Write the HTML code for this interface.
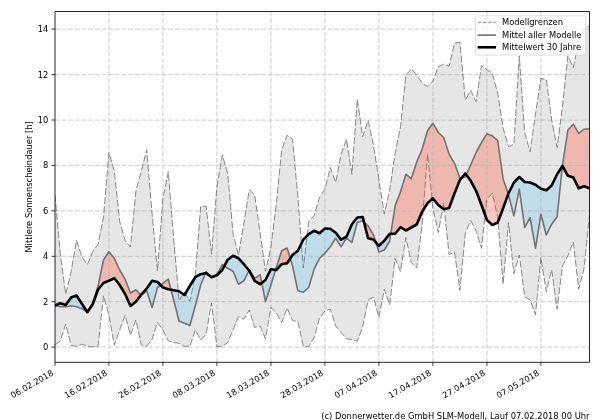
<!DOCTYPE html>
<html lang="de"><head><meta charset="utf-8"><title>Mittlere Sonnenscheindauer</title>
<style>html,body{margin:0;padding:0;background:#fff}svg{display:block}text{font-family:"DejaVu Sans","Liberation Sans",sans-serif;fill:#000}</style></head><body>
<svg width="600" height="420" viewBox="0 0 600 420">
<rect width="600" height="420" fill="#fff"/>
<defs><clipPath id="c"><rect x="55" y="11.5" width="534.5" height="350.8"/></clipPath></defs>
<g clip-path="url(#c)">
<polygon points="55,195 60.3,254 65.7,294.2 71.1,271.7 76.5,240.3 81.9,256.7 87.3,264.7 92.7,251.7 98.1,244.2 103.5,217 108.9,152.5 114.3,170.8 119.7,221.7 125.1,240.5 130.5,247 135.9,191 141.3,171 146.7,149.7 152.1,214 157.5,270.8 162.9,198.3 168.3,171.7 173.7,239 179.1,300.7 184.5,292 189.9,301.3 195.3,275 200.7,206.3 206.1,206.3 211.5,254.2 216.9,186.7 222.3,155 227.7,173.3 233.1,234 238.5,255 243.9,223 249.3,189.7 254.7,195 260.1,233 265.5,271.3 270.9,247 276.3,204 281.7,150 287.1,135.3 292.5,139.2 297.9,197 303.3,268 308.7,221.7 314.1,215.8 319.5,197.5 324.9,189.6 330.3,167.5 335.7,182.5 341.1,154.2 346.5,139.2 351.9,174.2 357.3,99.2 362.7,136.7 368.1,120.4 373.5,145 378.9,180 384.3,214.2 389.7,190 395.1,153.3 400.5,126.7 405.9,75 411.3,69 416.7,75 422.1,83 427.5,86.7 432.9,81.3 438.3,66.7 443.7,64.2 449.1,66.2 454.5,43.3 459.9,42.2 465.3,100 470.7,90.5 476.1,101.7 481.5,65.5 486.9,69.7 492.3,73.3 497.7,93.3 503.1,128 508.5,146.5 513.9,144.2 519.3,56 524.7,133 530.1,151.7 535.5,114 540.9,78.3 546.3,79.7 551.7,120 557.1,147.5 562.5,106 567.9,55.8 573.3,67.5 578.7,40.8 584.1,28.3 589.5,25.8 589.5,215 584.1,268.3 578.7,289.2 573.3,242 567.9,255.8 562.5,265.8 557.1,309.2 551.7,270 546.3,291.7 540.9,257.5 535.5,314.7 530.1,300 524.7,296.7 519.3,255 513.9,273.7 508.5,222.5 503.1,284.2 497.7,216.7 492.3,193.3 486.9,199 481.5,248.3 476.1,230.8 470.7,220.5 465.3,233.3 459.9,290.3 454.5,252.2 449.1,254.6 443.7,203.3 438.3,232.5 432.9,208.3 427.5,154.2 422.1,225 416.7,268 411.3,262.5 405.9,237.5 400.5,271.7 395.1,258.3 389.7,304.7 384.3,289.1 378.9,317.5 373.5,297.2 368.1,300 362.7,326.7 357.3,341.2 351.9,339.7 346.5,338.8 341.1,332.5 335.7,325.8 330.3,309.2 324.9,310.8 319.5,318.3 314.1,337.5 308.7,346.7 303.3,346.3 297.9,321.7 292.5,320.5 287.1,308 281.7,322.5 276.3,312.5 270.9,307.5 265.5,338.8 260.1,325.8 254.7,327.5 249.3,310 243.9,319.2 238.5,316.5 233.1,329.5 227.7,342.5 222.3,346.3 216.9,346.7 211.5,303 206.1,334.2 200.7,340 195.3,330 189.9,346.3 184.5,346.3 179.1,343.3 173.7,342.5 168.3,340.8 162.9,330 157.5,322.5 152.1,339.2 146.7,346.3 141.3,345 135.9,320 130.5,335 125.1,315.3 119.7,330 114.3,345 108.9,315 103.5,295.8 98.1,346.3 92.7,346.7 87.3,346.3 81.9,344.2 76.5,346.3 71.1,345.5 65.7,324.2 60.3,340.8 55,345" fill="#808080" fill-opacity="0.2"/>
<polygon points="86.8,311.4 87.3,311.7 92.7,303.5 98.1,285.8 103.5,260 108.9,251.7 114.3,258.3 119.7,270 125.1,279.2 130.5,293 135.9,289.7 140.9,295.1 135.9,301.7 130.5,306 125.1,294 119.7,285 114.3,278.3 108.9,280.8 103.5,283 98.1,289.5 92.7,304.2 87.3,312.2" fill="#ff6e55" fill-opacity="0.38"/>
<polygon points="160.6,285.1 162.9,283.3 168.3,279.2 171.1,289.8 168.3,289.2 162.9,287.5" fill="#ff6e55" fill-opacity="0.38"/>
<polygon points="205.6,273.1 206.1,271.7 211.5,277 216.9,274.7 222.3,264.7 224.4,266.1 222.3,270 216.9,275.3 211.5,277.2 206.1,273" fill="#ff6e55" fill-opacity="0.38"/>
<polygon points="249.1,270.5 249.3,270 254.7,278.3 260.1,274.7 261.8,282.9 260.1,284.2 254.7,280.8 249.3,270.8" fill="#ff6e55" fill-opacity="0.38"/>
<polygon points="275.6,269.9 276.3,267.5 281.7,250.8 287.1,248 290.3,258.4 287.1,263.3 281.7,264.2 276.3,270" fill="#ff6e55" fill-opacity="0.38"/>
<polygon points="364,222 368.1,225.8 373.5,235 375.8,242.2 373.5,239.6 368.1,238.3" fill="#ff6e55" fill-opacity="0.38"/>
<polygon points="390.8,233.7 395.1,205.8 400.5,191.7 405.9,174.2 411.3,178.8 416.7,162 422.1,149.2 427.5,130.8 432.9,123.3 438.3,132.5 443.7,137.5 449.1,154.2 454.5,163.3 459.9,178.3 461.7,177.9 459.9,180 454.5,193.3 449.1,208 443.7,209.2 438.3,205 432.9,198.3 427.5,203.3 422.1,211.7 416.7,224.5 411.3,227.5 405.9,230.5 400.5,227.2 395.1,233.8" fill="#ff6e55" fill-opacity="0.38"/>
<polygon points="466.3,174.8 470.7,165 476.1,152.5 481.5,142.5 486.9,133.8 492.3,135.8 497.7,140.5 503.1,179 508.2,194.1 503.1,208.3 497.7,222.5 492.3,225 486.9,220 481.5,205 476.1,190.8 470.7,180.8" fill="#ff6e55" fill-opacity="0.38"/>
<polygon points="562.4,166.2 562.5,165 567.9,130 573.3,124.2 578.7,133.3 584.1,129.2 589.5,128.7 589.5,188.3 584.1,186.2 578.7,188.3 573.3,177.5 567.9,175.8 562.5,166" fill="#ff6e55" fill-opacity="0.38"/>
<polygon points="55,305.8 60.3,306.7 65.7,306.7 71.1,305.8 76.5,306.7 81.9,308.7 86.8,311.4 81.9,303.8 76.5,295.5 71.1,297.5 65.7,305 60.3,303.3 55,305.3" fill="#87ceeb" fill-opacity="0.4"/>
<polygon points="140.9,295.1 141.3,295.5 146.7,290.8 152.1,307.5 157.5,287.5 160.6,285.1 157.5,282 152.1,280.8 146.7,288.5 141.3,294.5" fill="#87ceeb" fill-opacity="0.4"/>
<polygon points="171.1,289.8 173.7,300 179.1,321.3 184.5,323.3 189.9,325.5 195.3,305.8 200.7,285 205.6,273.1 200.7,274.2 195.3,277.2 189.9,285.8 184.5,295 179.1,291.3 173.7,290.3" fill="#87ceeb" fill-opacity="0.4"/>
<polygon points="224.4,266.1 227.7,268.3 233.1,271.3 238.5,284.2 243.9,280.8 249.1,270.5 243.9,264.2 238.5,258.3 233.1,255.8 227.7,259.7" fill="#87ceeb" fill-opacity="0.4"/>
<polygon points="261.8,282.9 265.5,301.7 270.9,285 275.6,269.9 270.9,269.2 265.5,280" fill="#87ceeb" fill-opacity="0.4"/>
<polygon points="290.3,258.4 292.5,265.8 297.9,290.8 303.3,292.2 308.7,287.5 314.1,269.2 319.5,258.3 324.9,253.3 330.3,246.7 335.7,238.3 341.1,246.7 346.5,238 351.9,242.5 357.3,222.5 362.7,220.8 364,222 362.7,217 357.3,217.5 351.9,224.2 346.5,236.7 341.1,239.6 335.7,232.7 330.3,228.7 324.9,228.5 319.5,233.3 314.1,230.8 308.7,234.2 303.3,239.7 297.9,250.8 292.5,255" fill="#87ceeb" fill-opacity="0.4"/>
<polygon points="375.8,242.2 378.9,252 384.3,250 389.7,241 390.8,233.7 389.7,233.7 384.3,240.8 378.9,245.8" fill="#87ceeb" fill-opacity="0.4"/>
<polygon points="461.7,177.9 465.3,177 466.3,174.8 465.3,173.5" fill="#87ceeb" fill-opacity="0.4"/>
<polygon points="508.2,194.1 508.5,195 513.9,215.8 519.3,189.2 524.7,227.5 530.1,217.5 535.5,248.3 540.9,214.2 546.3,235 551.7,224.2 557.1,216.7 562.4,166.2 557.1,174.2 551.7,185.5 546.3,190.3 540.9,188.7 535.5,184.7 530.1,182.5 524.7,182 519.3,177 513.9,182.5 508.5,193.3" fill="#87ceeb" fill-opacity="0.4"/>
<path d="M108.9 362.3V11.5M162.9 362.3V11.5M216.9 362.3V11.5M270.9 362.3V11.5M324.9 362.3V11.5M378.9 362.3V11.5M432.9 362.3V11.5M486.9 362.3V11.5M540.9 362.3V11.5M55 347.1H589.5M55 301.7H589.5M55 256.3H589.5M55 210.8H589.5M55 165.4H589.5M55 120H589.5M55 74.6H589.5M55 29.1H589.5" fill="none" stroke="#b0b0b0" stroke-opacity="0.55" stroke-width="1.25" stroke-dasharray="4.646 2.009"/>
<polyline points="55,195 60.3,254 65.7,294.2 71.1,271.7 76.5,240.3 81.9,256.7 87.3,264.7 92.7,251.7 98.1,244.2 103.5,217 108.9,152.5 114.3,170.8 119.7,221.7 125.1,240.5 130.5,247 135.9,191 141.3,171 146.7,149.7 152.1,214 157.5,270.8 162.9,198.3 168.3,171.7 173.7,239 179.1,300.7 184.5,292 189.9,301.3 195.3,275 200.7,206.3 206.1,206.3 211.5,254.2 216.9,186.7 222.3,155 227.7,173.3 233.1,234 238.5,255 243.9,223 249.3,189.7 254.7,195 260.1,233 265.5,271.3 270.9,247 276.3,204 281.7,150 287.1,135.3 292.5,139.2 297.9,197 303.3,268 308.7,221.7 314.1,215.8 319.5,197.5 324.9,189.6 330.3,167.5 335.7,182.5 341.1,154.2 346.5,139.2 351.9,174.2 357.3,99.2 362.7,136.7 368.1,120.4 373.5,145 378.9,180 384.3,214.2 389.7,190 395.1,153.3 400.5,126.7 405.9,75 411.3,69 416.7,75 422.1,83 427.5,86.7 432.9,81.3 438.3,66.7 443.7,64.2 449.1,66.2 454.5,43.3 459.9,42.2 465.3,100 470.7,90.5 476.1,101.7 481.5,65.5 486.9,69.7 492.3,73.3 497.7,93.3 503.1,128 508.5,146.5 513.9,144.2 519.3,56 524.7,133 530.1,151.7 535.5,114 540.9,78.3 546.3,79.7 551.7,120 557.1,147.5 562.5,106 567.9,55.8 573.3,67.5 578.7,40.8 584.1,28.3 589.5,25.8" fill="none" stroke="#747474" stroke-width="0.85" stroke-dasharray="7 2.1" stroke-linejoin="round"/>
<polyline points="55,345 60.3,340.8 65.7,324.2 71.1,345.5 76.5,346.3 81.9,344.2 87.3,346.3 92.7,346.7 98.1,346.3 103.5,295.8 108.9,315 114.3,345 119.7,330 125.1,315.3 130.5,335 135.9,320 141.3,345 146.7,346.3 152.1,339.2 157.5,322.5 162.9,330 168.3,340.8 173.7,342.5 179.1,343.3 184.5,346.3 189.9,346.3 195.3,330 200.7,340 206.1,334.2 211.5,303 216.9,346.7 222.3,346.3 227.7,342.5 233.1,329.5 238.5,316.5 243.9,319.2 249.3,310 254.7,327.5 260.1,325.8 265.5,338.8 270.9,307.5 276.3,312.5 281.7,322.5 287.1,308 292.5,320.5 297.9,321.7 303.3,346.3 308.7,346.7 314.1,337.5 319.5,318.3 324.9,310.8 330.3,309.2 335.7,325.8 341.1,332.5 346.5,338.8 351.9,339.7 357.3,341.2 362.7,326.7 368.1,300 373.5,297.2 378.9,317.5 384.3,289.1 389.7,304.7 395.1,258.3 400.5,271.7 405.9,237.5 411.3,262.5 416.7,268 422.1,225 427.5,154.2 432.9,208.3 438.3,232.5 443.7,203.3 449.1,254.6 454.5,252.2 459.9,290.3 465.3,233.3 470.7,220.5 476.1,230.8 481.5,248.3 486.9,199 492.3,193.3 497.7,216.7 503.1,284.2 508.5,222.5 513.9,273.7 519.3,255 524.7,296.7 530.1,300 535.5,314.7 540.9,257.5 546.3,291.7 551.7,270 557.1,309.2 562.5,265.8 567.9,255.8 573.3,242 578.7,289.2 584.1,268.3 589.5,215" fill="none" stroke="#747474" stroke-width="0.85" stroke-dasharray="7 2.1" stroke-linejoin="round"/>
<polyline points="55,305.8 60.3,306.7 65.7,306.7 71.1,305.8 76.5,306.7 81.9,308.7 87.3,311.7 92.7,303.5 98.1,285.8 103.5,260 108.9,251.7 114.3,258.3 119.7,270 125.1,279.2 130.5,293 135.9,289.7 141.3,295.5 146.7,290.8 152.1,307.5 157.5,287.5 162.9,283.3 168.3,279.2 173.7,300 179.1,321.3 184.5,323.3 189.9,325.5 195.3,305.8 200.7,285 206.1,271.7 211.5,277 216.9,274.7 222.3,264.7 227.7,268.3 233.1,271.3 238.5,284.2 243.9,280.8 249.3,270 254.7,278.3 260.1,274.7 265.5,301.7 270.9,285 276.3,267.5 281.7,250.8 287.1,248 292.5,265.8 297.9,290.8 303.3,292.2 308.7,287.5 314.1,269.2 319.5,258.3 324.9,253.3 330.3,246.7 335.7,238.3 341.1,246.7 346.5,238 351.9,242.5 357.3,222.5 362.7,220.8 368.1,225.8 373.5,235 378.9,252 384.3,250 389.7,241 395.1,205.8 400.5,191.7 405.9,174.2 411.3,178.8 416.7,162 422.1,149.2 427.5,130.8 432.9,123.3 438.3,132.5 443.7,137.5 449.1,154.2 454.5,163.3 459.9,178.3 465.3,177 470.7,165 476.1,152.5 481.5,142.5 486.9,133.8 492.3,135.8 497.7,140.5 503.1,179 508.5,195 513.9,215.8 519.3,189.2 524.7,227.5 530.1,217.5 535.5,248.3 540.9,214.2 546.3,235 551.7,224.2 557.1,216.7 562.5,165 567.9,130 573.3,124.2 578.7,133.3 584.1,129.2 589.5,128.7" fill="none" stroke="#727272" stroke-width="1.6" stroke-linejoin="round"/>
<polyline points="55,305.3 60.3,303.3 65.7,305 71.1,297.5 76.5,295.5 81.9,303.8 87.3,312.2 92.7,304.2 98.1,289.5 103.5,283 108.9,280.8 114.3,278.3 119.7,285 125.1,294 130.5,306 135.9,301.7 141.3,294.5 146.7,288.5 152.1,280.8 157.5,282 162.9,287.5 168.3,289.2 173.7,290.3 179.1,291.3 184.5,295 189.9,285.8 195.3,277.2 200.7,274.2 206.1,273 211.5,277.2 216.9,275.3 222.3,270 227.7,259.7 233.1,255.8 238.5,258.3 243.9,264.2 249.3,270.8 254.7,280.8 260.1,284.2 265.5,280 270.9,269.2 276.3,270 281.7,264.2 287.1,263.3 292.5,255 297.9,250.8 303.3,239.7 308.7,234.2 314.1,230.8 319.5,233.3 324.9,228.5 330.3,228.7 335.7,232.7 341.1,239.6 346.5,236.7 351.9,224.2 357.3,217.5 362.7,217 368.1,238.3 373.5,239.6 378.9,245.8 384.3,240.8 389.7,233.7 395.1,233.8 400.5,227.2 405.9,230.5 411.3,227.5 416.7,224.5 422.1,211.7 427.5,203.3 432.9,198.3 438.3,205 443.7,209.2 449.1,208 454.5,193.3 459.9,180 465.3,173.5 470.7,180.8 476.1,190.8 481.5,205 486.9,220 492.3,225 497.7,222.5 503.1,208.3 508.5,193.3 513.9,182.5 519.3,177 524.7,182 530.1,182.5 535.5,184.7 540.9,188.7 546.3,190.3 551.7,185.5 557.1,174.2 562.5,166 567.9,175.8 573.3,177.5 578.7,188.3 584.1,186.2 589.5,188.3" fill="none" stroke="#000" stroke-width="2.6" stroke-linejoin="round" stroke-linecap="square"/>
</g>
<path d="M55 362.3v3.5M108.9 362.3v3.5M162.9 362.3v3.5M216.9 362.3v3.5M270.9 362.3v3.5M324.9 362.3v3.5M378.9 362.3v3.5M432.9 362.3v3.5M486.9 362.3v3.5M540.9 362.3v3.5M55 347.1h-3.5M55 301.7h-3.5M55 256.3h-3.5M55 210.8h-3.5M55 165.4h-3.5M55 120h-3.5M55 74.6h-3.5M55 29.1h-3.5" fill="none" stroke="#000" stroke-width="0.8"/>
<path d="M55 11.5H589.5V362.3H55Z" fill="none" stroke="#000" stroke-width="0.85" stroke-linejoin="miter"/>
<text x="48.4" y="350.1" font-size="8.33" text-anchor="end">0</text>
<text x="48.4" y="304.6" font-size="8.33" text-anchor="end">2</text>
<text x="48.4" y="259.2" font-size="8.33" text-anchor="end">4</text>
<text x="48.4" y="213.8" font-size="8.33" text-anchor="end">6</text>
<text x="48.4" y="168.4" font-size="8.33" text-anchor="end">8</text>
<text x="48.4" y="122.9" font-size="8.33" text-anchor="end">10</text>
<text x="48.4" y="77.5" font-size="8.33" text-anchor="end">12</text>
<text x="48.4" y="32.1" font-size="8.33" text-anchor="end">14</text>
<text font-size="8.33" text-anchor="end" transform="translate(54,374.7) rotate(-30)">06.02.2018</text>
<text font-size="8.33" text-anchor="end" transform="translate(107.9,374.7) rotate(-30)">16.02.2018</text>
<text font-size="8.33" text-anchor="end" transform="translate(161.9,374.7) rotate(-30)">26.02.2018</text>
<text font-size="8.33" text-anchor="end" transform="translate(215.9,374.7) rotate(-30)">08.03.2018</text>
<text font-size="8.33" text-anchor="end" transform="translate(269.9,374.7) rotate(-30)">18.03.2018</text>
<text font-size="8.33" text-anchor="end" transform="translate(323.9,374.7) rotate(-30)">28.03.2018</text>
<text font-size="8.33" text-anchor="end" transform="translate(377.9,374.7) rotate(-30)">07.04.2018</text>
<text font-size="8.33" text-anchor="end" transform="translate(431.9,374.7) rotate(-30)">17.04.2018</text>
<text font-size="8.33" text-anchor="end" transform="translate(485.9,374.7) rotate(-30)">27.04.2018</text>
<text font-size="8.33" text-anchor="end" transform="translate(539.9,374.7) rotate(-30)">07.05.2018</text>
<text font-size="8.33" text-anchor="middle" transform="translate(32,186.9) rotate(-90)">Mittlere Sonnenscheindauer [h]</text>
<text x="321.2" y="418.6" font-size="8.33" textLength="268.3" lengthAdjust="spacing">(c) Donnerwetter.de GmbH SLM-Modell, Lauf 07.02.2018 00 Uhr</text>
<rect x="475.5" y="15.8" width="110.3" height="39.2" rx="1.7" fill="#fff" fill-opacity="0.8" stroke="#ccc" stroke-opacity="0.8" stroke-width="0.8"/>
<path d="M477.8 22.3H495.8" stroke="#777" stroke-width="0.9" stroke-dasharray="3.6 1.6" fill="none"/>
<path d="M477.6 35.1H496" stroke="#727272" stroke-width="1.6" fill="none"/>
<path d="M477.6 47.3H496" stroke="#000" stroke-width="2.6" fill="none"/>
<text x="502" y="25.1" font-size="8.33">Modellgrenzen</text>
<text x="502" y="37.8" font-size="8.33">Mittel aller Modelle</text>
<text x="502" y="50.1" font-size="8.33">Mittelwert 30 Jahre</text>
</svg></body></html>
